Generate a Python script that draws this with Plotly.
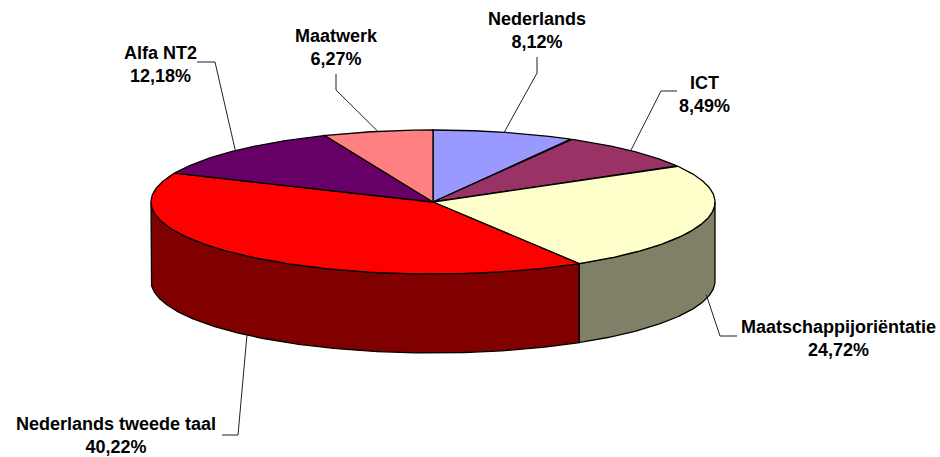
import numpy as np
import plotly.graph_objects as go

# ---- data ----
categories = ["Nederlands", "ICT", "Maatschappijoriëntatie",
              "Nederlands tweede taal", "Alfa NT2", "Maatwerk"]
values = [8.12, 8.49, 24.72, 40.22, 12.18, 6.27]
top_colors = ["#9999FF", "#993366", "#FFFFCC", "#FF0000", "#660066", "#FF8080"]
side_colors = ["#4C4C80", "#4C1933", "#808066", "#800000", "#330033", "#804040"]

# ---- layout constants (pixel space) ----
W, H = 940, 457
CX, CY, RX, RY, DEPTH = 433, 202, 282, 72, 79
# label centre and leader elbow points (label end, elbow)
label_pos = [(537, 30), (704, 94), (838, 338), (116, 435), (160, 64), (336, 47)]
leader_ends = [((537, 57), (537, 73)), ((677, 91), (661, 91)),
               ((737, 336), (720, 336)), ((222, 435), (238, 435)),
               ((197, 62), (215, 62)), ((336, 74), (336, 90))]


def ell(theta_deg, dz=0.0):
    t = np.radians(theta_deg)
    return CX + RX * np.sin(t), CY - RY * np.cos(t) + dz


total = float(sum(values))
bounds = np.concatenate([[0.0], np.cumsum(values)]) / total * 360.0

fig = go.Figure()

# side walls (front half only: 90..270 deg clockwise from top)
for i in range(len(values)):
    s = max(bounds[i], 90.0)
    e = min(bounds[i + 1], 270.0)
    if s >= e:
        continue
    th = np.linspace(s, e, 200)
    xt, yt = ell(th)
    xb, yb = ell(th[::-1], DEPTH)
    xs = np.concatenate([xt, xb, xt[:1]])
    ys = np.concatenate([yt, yb, yt[:1]])
    fig.add_trace(go.Scatter(x=xs, y=ys, mode="lines", fill="toself",
                             fillcolor=side_colors[i],
                             line=dict(color="black", width=1.3),
                             hoverinfo="skip", showlegend=False))

# top faces
for i in range(len(values)):
    th = np.linspace(bounds[i], bounds[i + 1], 200)
    xt, yt = ell(th)
    xs = np.concatenate([[CX], xt, [CX]])
    ys = np.concatenate([[CY], yt, [CY]])
    fig.add_trace(go.Scatter(x=xs, y=ys, mode="lines", fill="toself",
                             fillcolor=top_colors[i],
                             line=dict(color="black", width=1.3),
                             hoverinfo="skip", showlegend=False))

# leader lines + labels
annotations = []
for i, name in enumerate(categories):
    mid = (bounds[i] + bounds[i + 1]) / 2.0
    front = np.cos(np.radians(mid)) < 0
    px, py = ell(mid, DEPTH * 0.95 if front else 0.0)
    (x0, y0), (x1, y1) = leader_ends[i]
    fig.add_trace(go.Scatter(x=[x0, x1, px], y=[y0, y1, py], mode="lines",
                             line=dict(color="#222222", width=1),
                             hoverinfo="skip", showlegend=False))
    pct = f"{values[i]:.2f}%".replace(".", ",")
    lx, ly = label_pos[i]
    annotations.append(dict(x=lx, y=ly, xref="x", yref="y",
                            text=f"<b>{name}</b><br><b>{pct}</b>",
                            showarrow=False, xanchor="center", yanchor="middle",
                            align="center",
                            font=dict(family="Liberation Sans, Arial", size=18,
                                      color="black")))

fig.update_layout(
    width=W, height=H,
    margin=dict(l=0, r=0, t=0, b=0),
    paper_bgcolor="white", plot_bgcolor="white",
    xaxis=dict(range=[0, W], visible=False, fixedrange=True),
    yaxis=dict(range=[H, 0], visible=False, fixedrange=True),
    annotations=annotations,
    showlegend=False,
)

fig.write_html(
    "out.html",
    config={"displayModeBar": False},
    post_script="document.body.style.margin='0';document.body.style.overflow='hidden';",
)
